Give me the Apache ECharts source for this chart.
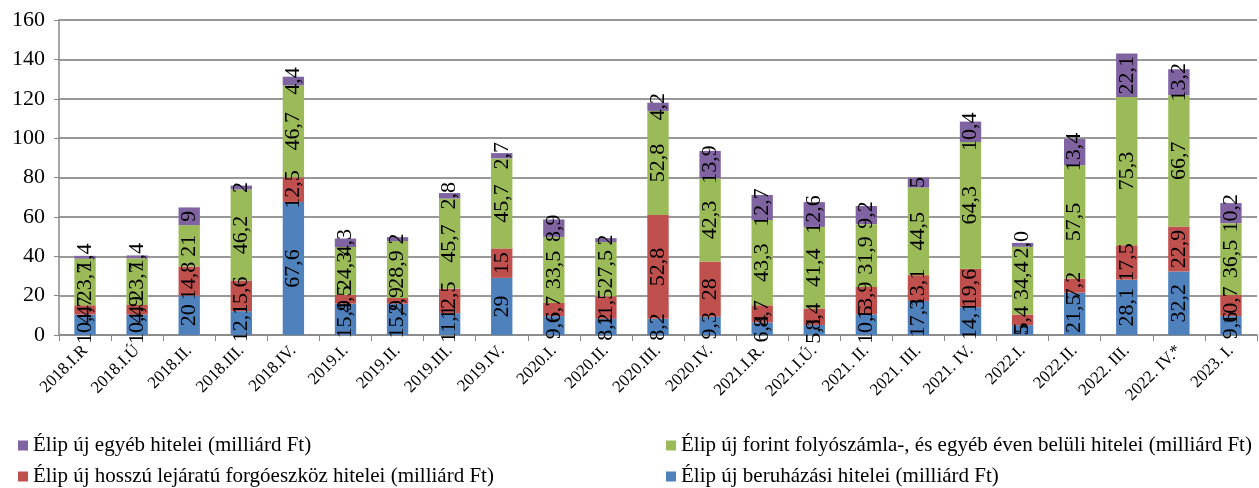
<!DOCTYPE html>
<html>
<head>
<meta charset="utf-8">
<script src="https://cdn.jsdelivr.net/npm/echarts@6/dist/echarts.min.js"></script>
<style>
html, body { margin: 0; padding: 0; background: #fff; }
#chart { width: 1259px; height: 488px; }
</style>
</head>
<body>
<div id="chart"></div>
<script>
var categories = ['2018.I.R', '2018.I.Ú', '2018.II.', '2018.III.', '2018.IV.', '2019.I.', '2019.II.', '2019.III.',
    '2019.IV.', '2020.I.', '2020.II.', '2020.III.', '2020.IV.', '2021.I.R.', '2021.I.Ú.', '2021. II.',
    '2021. III.', '2021. IV.', '2022.I.', '2022.II.', '2022. III.', '2022. IV.*', '2023. I.'];
var beruhazasi = [10.4, 10.4, 20, 12.1, 67.6, 15.9, 15.9, 11.1, 29, 9.6, 8.2, 8.2, 9.3, 6.4, 5.1, 10.5, 17.3, 14.1, 5.0, 21.5, 28.1, 32.2, 9.6];
var forgoeszkoz = [4.7, 4.9, 14.8, 15.6, 12.5, 4.5, 2.9, 12.5, 15, 6.7, 11.5, 52.8, 28, 8.7, 8.4, 13.9, 13.1, 19.6, 5.4, 7.2, 17.5, 22.9, 10.7];
var folyoszamla = [23.7, 23.7, 21, 46.2, 46.7, 24.3, 28.9, 45.7, 45.7, 33.5, 27.5, 52.8, 42.3, 43.3, 41.4, 31.9, 44.5, 64.3, 34.4, 57.5, 75.3, 66.7, 36.5];
var egyeb = [1.4, 1.4, 9, 2, 4.4, 4.3, 2, 2.8, 2.7, 8.9, 2, 4.2, 13.9, 12.7, 12.6, 9.2, 5, 10.4, 2.0, 13.4, 22.1, 13.2, 10.2];
var yTicks = [0, 20, 40, 60, 80, 100, 120, 140, 160];

var names = [
    'Élip új egyéb hitelei (milliárd Ft)',
    'Élip új forint folyószámla-, és egyéb éven belüli hitelei (milliárd Ft)',
    'Élip új hosszú lejáratú forgóeszköz hitelei (milliárd Ft)',
    'Élip új beruházási hitelei (milliárd Ft)'
];

var font = 'Liberation Serif, Times New Roman, serif';

function fmt(p) {
    // 2022.I. egyéb is shown as "2,0" in the source
    if (p.seriesIndex === 3 && p.dataIndex === 18) return '2,0';
    return String(p.value).replace('.', ',');
}

function barSeries(name, data, color) {
    return {
        name: name,
        type: 'bar',
        stack: 'total',
        barWidth: '41%',
        data: data,
        itemStyle: { color: color },
        label: {
            show: true,
            position: 'inside',
            rotate: 90,
            color: '#000',
            fontFamily: font,
            fontSize: 22,
            formatter: fmt
        }
    };
}

function legendItem(name, left, top) {
    return {
        data: [name],
        left: left,
        top: top,
        padding: 0,
        itemWidth: 10,
        itemHeight: 10,
        itemGap: 5,
        icon: 'rect',
        textStyle: { fontFamily: font, fontSize: 21, color: '#000' }
    };
}

var chart = echarts.init(document.getElementById('chart'));
var option = {
    animation: false,
    legend: [
        legendItem(names[0], 18, 435),
        legendItem(names[1], 666, 435),
        legendItem(names[2], 18, 466),
        legendItem(names[3], 666, 466)
    ],
    grid: { left: 59, right: 2, top: 20, bottom: 153 },
    xAxis: {
        type: 'category',
        data: categories,
        axisLine: { lineStyle: { color: '#888', width: 1.5 } },
        axisTick: { show: true, length: 6, interval: 0, lineStyle: { color: '#888' } },
        axisLabel: { interval: 0, rotate: 45, fontFamily: font, fontSize: 17, color: '#000', margin: 13 }
    },
    yAxis: {
        type: 'value',
        min: yTicks[0],
        max: yTicks[yTicks.length - 1],
        interval: 20,
        axisLine: { show: true, lineStyle: { color: '#888', width: 1.5 } },
        axisTick: { show: true, length: 5, lineStyle: { color: '#888' } },
        splitLine: { lineStyle: { color: '#999', width: 2 } },
        axisLabel: { fontFamily: font, fontSize: 22, color: '#000', margin: 14 }
    },
    series: [
        barSeries(names[3], beruhazasi, '#4F81BD'),
        barSeries(names[2], forgoeszkoz, '#C0504D'),
        barSeries(names[1], folyoszamla, '#9BBB59'),
        barSeries(names[0], egyeb, '#8064A2')
    ]
};
chart.setOption(option);
</script>
</body>
</html>
